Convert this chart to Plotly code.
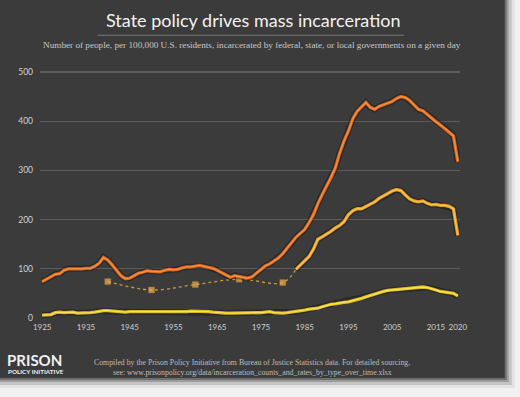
import plotly.graph_objects as go

# ---------------- data ----------------
years = list(range(1925, 2021))

state_prisons = [
    74, 79, 85, 89, 90, 97, 100, 100, 99, 100,          # 1925-1934
    101, 101, 105, 111, 123, 118, 108, 96, 86, 80,      # 1935-1944
    81, 86, 91, 93, 96, 95, 94, 94, 97, 99,             # 1945-1954
    98, 99, 102, 104, 104, 105, 107, 105, 103, 101,     # 1955-1964
    97, 92, 88, 83, 86, 84, 83, 81, 84, 92,             # 1965-1974
    100, 106, 110, 116, 122, 131, 142, 155, 164, 172,   # 1975-1984
    180, 194, 210, 232, 252, 268, 285, 305, 335, 360,   # 1985-1994
    380, 405, 420, 430, 438, 428, 424, 430, 433, 436,   # 1995-2004
    440, 446, 450, 448, 442, 433, 424, 421, 414, 406,   # 2005-2014
    398, 393, 386, 379, 370, 318,                       # 2015-2020
]

jail_years = list(range(1983, 2021))
local_jails = [
    99, 108, 116, 125, 140, 160, 165, 170, 176, 183,    # 1983-1992
    188, 196, 210, 218, 222, 222, 227, 232, 236, 243,   # 1993-2002
    248, 253, 258, 261, 259, 250, 242, 238, 236, 238,   # 2003-2012
    233, 230, 231, 229, 229, 227, 222, 168,             # 2013-2020
]

jail_census_years = [1940, 1950, 1960, 1970, 1980, 1983]
jail_census = [74, 57, 68, 79, 72, 99]

federal_prisons = [
    6, 6, 7, 11, 12, 11, 12, 12, 10, 10,                # 1925-1934
    11, 11, 12, 14, 15, 15, 14, 13, 12, 12,             # 1935-1944
    13, 13, 13, 12, 12, 12, 12, 12, 13, 13,             # 1945-1954
    13, 13, 13, 13, 14, 14, 14, 13, 13, 12,             # 1955-1964
    11, 11, 10, 10, 10, 10, 10, 10, 11, 11,             # 1965-1974
    11, 12, 13, 11, 10, 10, 11, 12, 13, 14,             # 1975-1984
    16, 18, 19, 20, 23, 26, 28, 29, 31, 32,             # 1985-1994
    33, 35, 37, 40, 43, 46, 49, 52, 54, 56,             # 1995-2004
    57, 58, 59, 60, 61, 62, 63, 63, 62, 60,             # 2005-2014
    57, 54, 53, 52, 50, 45,                             # 2015-2020
]

x_tick_vals = [1925, 1935, 1945, 1955, 1965, 1975, 1985, 1995, 2005, 2015, 2020]
y_tick_vals = [0, 100, 200, 300, 400, 500]

# ---------------- geometry helpers ----------------
W, H = 520, 397
L, R = 39.5, 460.2     # plot area left/right pixel
T, B = 66.8, 321.0     # plot area top/bottom pixel


def px(xp):
    return (xp - L) / (R - L)


def py(yp):
    return (B - yp) / (B - T)


BG = "#3b3b3b"
STATE_OUT, STATE_IN = "#d8641f", "#f0923e"
JAIL_OUT, JAIL_IN = "#e39a20", "#f7c550"
FED_OUT, FED_IN = "#d9b820", "#f8e252"

fig = go.Figure()


def add_line(xs, ys, outer, inner):
    fig.add_trace(go.Scatter(x=xs, y=ys, mode="lines",
                             line=dict(color="rgba(15,15,15,0.4)", width=6),
                             hoverinfo="skip"))
    fig.add_trace(go.Scatter(x=xs, y=ys, mode="lines",
                             line=dict(color=outer, width=3.3),
                             hoverinfo="skip"))
    fig.add_trace(go.Scatter(x=xs, y=ys, mode="lines",
                             line=dict(color=inner, width=1.4),
                             hoverinfo="skip"))


add_line(years, federal_prisons, FED_OUT, FED_IN)

# dotted jail census line with square markers
fig.add_trace(go.Scatter(
    x=jail_census_years, y=jail_census, mode="lines+markers",
    line=dict(color="#c99a3a", width=1.3, dash="dot", shape="spline"),
    marker=dict(symbol="square", size=[6, 6, 6, 6, 6, 0], color="#f2b350",
                line=dict(color="#c98a2a", width=0.5)),
    hoverinfo="skip"))

add_line(jail_years, local_jails, JAIL_OUT, JAIL_IN)
add_line(years, state_prisons, STATE_OUT, STATE_IN)

annotations = [
    dict(text="State policy drives mass incarceration", x=px(253), y=py(20),
         xref="paper", yref="paper", showarrow=False,
         font=dict(family="Lato", size=18, color="#f2f2f2"),
         xanchor="center", yanchor="middle"),
    dict(text="Number of people, per 100,000 U.S. residents, incarcerated by federal, state, or local governments on a given day",
         x=px(252), y=py(45), xref="paper", yref="paper", showarrow=False,
         font=dict(family="Liberation Serif", size=9.2, color="#c8c8c8"),
         xanchor="center", yanchor="middle"),
    dict(text="State<br>prisons", x=2021.6, y=345, xref="x", yref="y",
         showarrow=False, align="left", xanchor="left", yanchor="middle",
         font=dict(family="Lato", size=10, color="#d9702a")),
    dict(text="Local<br>jails", x=2021.6, y=204, xref="x", yref="y",
         showarrow=False, align="left", xanchor="left", yanchor="middle",
         font=dict(family="Lato", size=10, color="#e8a832")),
    dict(text="Federal<br>prisons", x=2021.6, y=62, xref="x", yref="y",
         showarrow=False, align="left", xanchor="left", yanchor="middle",
         font=dict(family="Lato", size=10, color="#f0d040")),
    dict(text="<b>PRISON</b>", x=px(4), y=py(360), xref="paper", yref="paper",
         showarrow=False, xanchor="left", yanchor="middle",
         font=dict(family="Lato", size=15, color="#f0f0f0")),
    dict(text="<b>POLICY INITIATIVE</b>", x=px(5), y=py(372), xref="paper", yref="paper",
         showarrow=False, xanchor="left", yanchor="middle",
         font=dict(family="Lato", size=6.3, color="#f0f0f0")),
    dict(text="Compiled by the Prison Policy Initiative from Bureau of Justice Statistics data. For detailed sourcing,",
         x=px(252), y=py(363), xref="paper", yref="paper", showarrow=False,
         xanchor="center", yanchor="middle",
         font=dict(family="Liberation Serif", size=7.8, color="#bdbdbd")),
    dict(text="see: www.prisonpolicy.org/data/incarceration_counts_and_rates_by_type_over_time.xlsx",
         x=px(252), y=py(372.5), xref="paper", yref="paper", showarrow=False,
         xanchor="center", yanchor="middle",
         font=dict(family="Liberation Serif", size=7.8, color="#bdbdbd")),
]

shapes = [
    # title underline
    dict(type="line", xref="paper", yref="paper", x0=px(97), x1=px(404),
         y0=py(35), y1=py(35), line=dict(color="#7a7a7a", width=1)),
    # dotted baseline
    dict(type="line", xref="x", yref="y", x0=1924.6, x1=2020.4, y0=0, y1=0,
         line=dict(color="#bcbcbc", width=1.2, dash="dot"), layer="below"),
]

# light frame on the right and bottom with soft shadow
for (x0, y0c, col) in [(505, 378, "#6e6e6e"), (507, 380, "#9c9c9c"),
                       (509, 382, "#c4c4c4"), (512, 385, "#e2e2e2"),
                       (515, 388, "#f1f1f1")]:
    shapes.append(dict(type="rect", xref="paper", yref="paper",
                       x0=px(x0), x1=px(W + 2), y0=py(-2), y1=py(H + 2),
                       fillcolor=col, line=dict(width=0), layer="above"))
    shapes.append(dict(type="rect", xref="paper", yref="paper",
                       x0=px(-2), x1=px(W + 2), y0=py(y0c), y1=py(H + 2),
                       fillcolor=col, line=dict(width=0), layer="above"))

fig.update_layout(
    width=W, height=H,
    margin=dict(l=L, r=W - R, t=T, b=H - B, pad=0),
    paper_bgcolor=BG, plot_bgcolor=BG,
    showlegend=False,
    hovermode=False,
    annotations=annotations,
    shapes=shapes,
    xaxis=dict(range=[1924.5, 2020.5], tickvals=x_tick_vals,
               ticktext=[str(v) for v in x_tick_vals],
               showgrid=False, zeroline=False, showline=False, ticks="",
               tickfont=dict(family="Lato", size=8, color="#cfcfcf"),
               ticklabelstandoff=0, fixedrange=True),
    yaxis=dict(range=[-6, 510], tickvals=y_tick_vals,
               showgrid=True, gridcolor="#5c5c5c", gridwidth=1.2,
               zeroline=True, zerolinecolor=BG, zerolinewidth=2,
               showline=False, ticks="",
               tickfont=dict(family="Lato", size=8.5, color="#d0d0d0"),
               ticklabelstandoff=6, fixedrange=True),
)

fig.write_html("out.html",
               config={"displayModeBar": False, "staticPlot": True},
               post_script="document.body.style.margin='0';document.body.style.background='#f1f1f1';")
